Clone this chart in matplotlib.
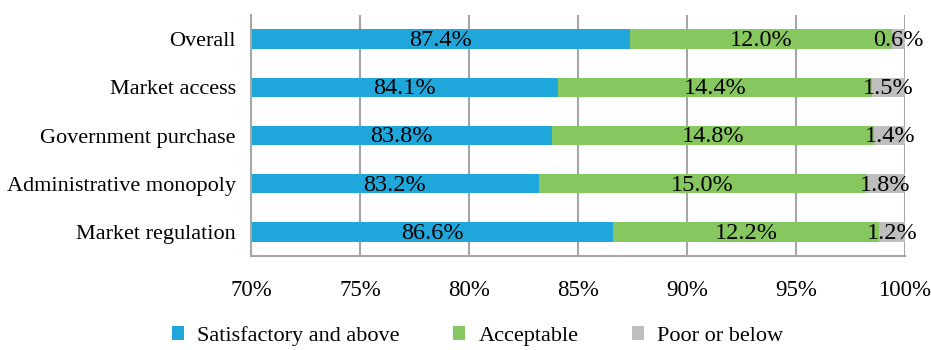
import matplotlib
matplotlib.use("Agg")
import matplotlib.pyplot as plt
from matplotlib.patches import Patch

categories = ["Overall", "Market access", "Government purchase",
              "Administrative monopoly", "Market regulation"]
satisfactory = [87.4, 84.1, 83.8, 83.2, 86.6]
acceptable = [12.0, 14.4, 14.8, 15.0, 12.2]
poor = [0.6, 1.5, 1.4, 1.8, 1.2]
series_names = ["Satisfactory and above", "Acceptable", "Poor or below"]
xticks = [70, 75, 80, 85, 90, 95, 100]
xtick_labels = ["70%", "75%", "80%", "85%", "90%", "95%", "100%"]

colors = ["#1FA7DC", "#87C760", "#BEBEBE"]

plt.rcParams["font.family"] = ["Liberation Serif", "DejaVu Serif"]
fs = 16

fig = plt.figure(figsize=(9.31, 3.5), dpi=100)
ax = fig.add_axes([251/931, 94/350, (905-251)/931, (256-15)/350])

y = list(range(len(categories)))
h = 0.4
left = [0]*len(categories)
for vals, c in zip([satisfactory, acceptable, poor], colors):
    ax.barh(y, vals, left=left, height=h, color=c, zorder=2)
    for yi, l, v in zip(y, left, vals):
        cx = max(l, 70) + (l + v - max(l, 70)) / 2
        ax.text(cx, yi + 0.03, f"{v:.1f}%", ha="center", va="center",
                fontsize=17.5, color="black", zorder=3)
    left = [a + b for a, b in zip(left, vals)]

ax.set_xlim(70, 100)
ax.set_ylim(len(categories) - 0.5, -0.5)
ax.set_yticks(y)
ax.set_yticklabels(categories, fontsize=fs)
ax.set_xticks(xticks)
ax.set_xticklabels(xtick_labels, fontsize=16.5)
ax.tick_params(axis="both", length=0)
ax.tick_params(axis="x", pad=17)
ax.tick_params(axis="y", pad=11)
ax.xaxis.grid(True, color="#A6A6A6", linewidth=1.5, zorder=1)
ax.set_axisbelow(True)
for s in ["top", "right"]:
    ax.spines[s].set_visible(False)
for s in ["left", "bottom"]:
    ax.spines[s].set_color("#A6A6A6")
    ax.spines[s].set_linewidth(1.5)

handles = [Patch(facecolor=c, edgecolor="none") for c in colors]
fig.legend(handles, series_names, loc="center", bbox_to_anchor=(0.513, 14/350),
           ncol=3, frameon=False, fontsize=fs, handlelength=0.55, handleheight=0.55,
           handletextpad=0.6, columnspacing=2.4, borderpad=0.2)

fig.savefig("out.png", dpi=100)
